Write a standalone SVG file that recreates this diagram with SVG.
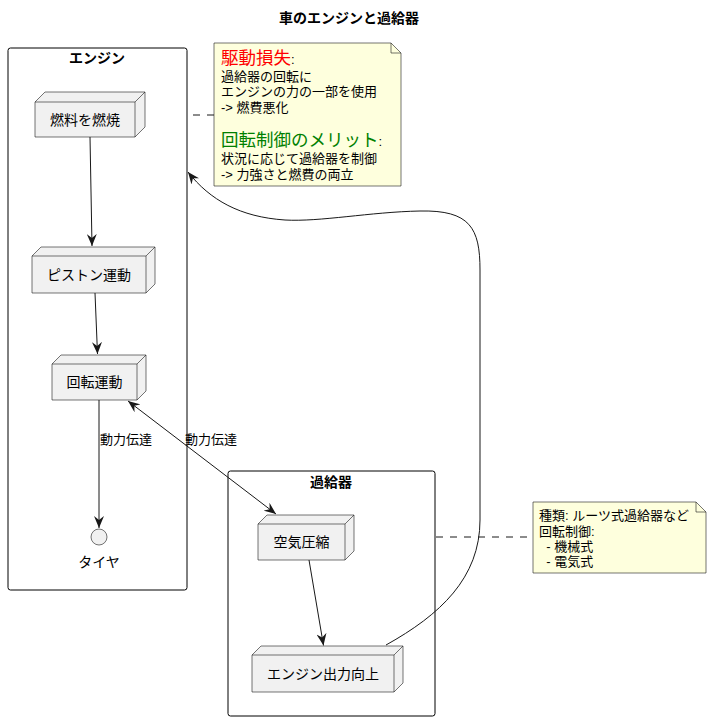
<svg xmlns="http://www.w3.org/2000/svg" width="711" height="721" viewBox="0 0 711 721">
<defs>
<style>
text{font-family:"Liberation Sans","Noto Sans CJK JP",sans-serif;fill:#000}
.title{font-size:14px;font-weight:bold}
.pkg{fill:none;stroke:#000;stroke-width:1}
.pl{font-size:14px;font-weight:bold}
.nf{fill:#F1F1F1;stroke:#181818;stroke-width:0.6}
.nl{fill:none;stroke:#181818;stroke-width:0.6}
.nt{font-size:14px}
.note{fill:#FEFFDD;stroke:#181818;stroke-width:0.6}
.ntx{font-size:13px}
.edge{fill:none;stroke:#181818;stroke-width:1}
.dash{fill:none;stroke:#181818;stroke-width:1;stroke-dasharray:7,7}
.el{font-size:13px}
</style>
<marker id="ah" viewBox="0 0 12 10" refX="12" refY="5" markerWidth="12" markerHeight="10" markerUnits="userSpaceOnUse" orient="auto-start-reverse">
<path d="M0,0 L12,5 L0,10 L4,5 Z" fill="#181818"/>
</marker>
</defs>
<rect width="711" height="721" fill="#fff"/>
<text class="title" x="349" y="23" text-anchor="middle">車のエンジンと過給器</text>

<g id="pkg-engine">
<rect class="pkg" x="8" y="48" width="179" height="542" rx="2.5"/>
<text class="pl" x="97" y="63" text-anchor="middle">エンジン</text>
</g>
<g id="pkg-turbo">
<rect class="pkg" x="228" y="471" width="207" height="245" rx="2.5"/>
<text class="pl" x="331" y="487" text-anchor="middle">過給器</text>
</g>

<g id="node-fuel">
<path class="nf" d="M35,102 L45,92 L145,92 L145,127 L135,137 L35,137 Z"/>
<path class="nl" d="M35,102 L135,102 L135,137 M135,102 L145,92"/>
<text class="nt" x="85" y="125" text-anchor="middle">燃料を燃焼</text>
</g>
<g id="node-piston">
<path class="nf" d="M32,256 L41,247 L155,247 L155,284 L146,293 L32,293 Z"/>
<path class="nl" d="M32,256 L146,256 L146,293 M146,256 L155,247"/>
<text class="nt" x="89" y="280" text-anchor="middle">ピストン運動</text>
</g>
<g id="node-rotation">
<path class="nf" d="M52,364 L61,355 L146,355 L146,391 L137,400 L52,400 Z"/>
<path class="nl" d="M52,364 L137,364 L137,400 M137,364 L146,355"/>
<text class="nt" x="94.5" y="387" text-anchor="middle">回転運動</text>
</g>
<g id="node-tire">
<circle class="nf" cx="99" cy="537" r="8"/>
<text class="nt" x="99" y="567" text-anchor="middle">タイヤ</text>
</g>
<g id="node-air">
<path class="nf" d="M258,524 L267,515 L354,515 L354,551 L345,560 L258,560 Z"/>
<path class="nl" d="M258,524 L345,524 L345,560 M345,524 L354,515"/>
<text class="nt" x="301.5" y="547" text-anchor="middle">空気圧縮</text>
</g>
<g id="node-output">
<path class="nf" d="M252,655 L261,646 L403,646 L403,683 L394,692 L252,692 Z"/>
<path class="nl" d="M252,655 L394,655 L394,692 M394,655 L403,646"/>
<text class="nt" x="323" y="679" text-anchor="middle">エンジン出力向上</text>
</g>

<g id="note-engine">
<path class="note" d="M214,43 L391,43 L401,53 L401,186 L214,186 Z"/>
<path class="nl" d="M391,43 L391,53 L401,53"/>
<text x="221" y="64"><tspan style="font-size:17.5px;fill:#FF0000">駆動損失</tspan><tspan style="font-size:13px">:</tspan></text>
<text class="ntx" x="221" y="81">過給器の回転に</text>
<text class="ntx" x="221" y="96">エンジンの力の一部を使用</text>
<text class="ntx" x="221" y="112">-&gt; 燃費悪化</text>
<text x="221" y="146"><tspan style="font-size:17.5px;fill:#008000">回転制御のメリット</tspan><tspan style="font-size:13px">:</tspan></text>
<text class="ntx" x="221" y="163">状況に応じて過給器を制御</text>
<text class="ntx" x="221" y="179">-&gt; 力強さと燃費の両立</text>
</g>
<g id="note-turbo">
<path class="note" d="M533,502 L696,502 L706,512 L706,573 L533,573 Z"/>
<path class="nl" d="M696,502 L696,512 L706,512"/>
<text class="ntx" x="539" y="520">種類: ルーツ式過給器など</text>
<text class="ntx" x="539" y="536">回転制御:</text>
<text class="ntx" x="539" y="551" xml:space="preserve">  - 機械式</text>
<text class="ntx" x="539" y="566" xml:space="preserve">  - 電気式</text>
</g>

<g id="connectors">
<path class="edge" d="M90,137 L92,246" marker-end="url(#ah)"/>
<path class="edge" d="M95,293 L97.5,354" marker-end="url(#ah)"/>
<path class="edge" d="M99,400 L99,528" marker-end="url(#ah)"/>
<path class="edge" d="M128,401 L276,514" marker-start="url(#ah)" marker-end="url(#ah)"/>
<path class="edge" d="M309,560 L323.5,645.5" marker-end="url(#ah)"/>
<path class="edge" d="M386,645 C440,615 480,578 480,520 L480,270 C480,228 470,210 420,211 C370,212 320,222 285,220 C240,217 210,200 188,172" marker-end="url(#ah)"/>
<path class="dash" d="M193,115 L214,115"/>
<path class="dash" d="M436,537 L533,537"/>
<text class="el" x="100" y="444">動力伝達</text>
<text class="el" x="185" y="444">動力伝達</text>
</g>
</svg>
